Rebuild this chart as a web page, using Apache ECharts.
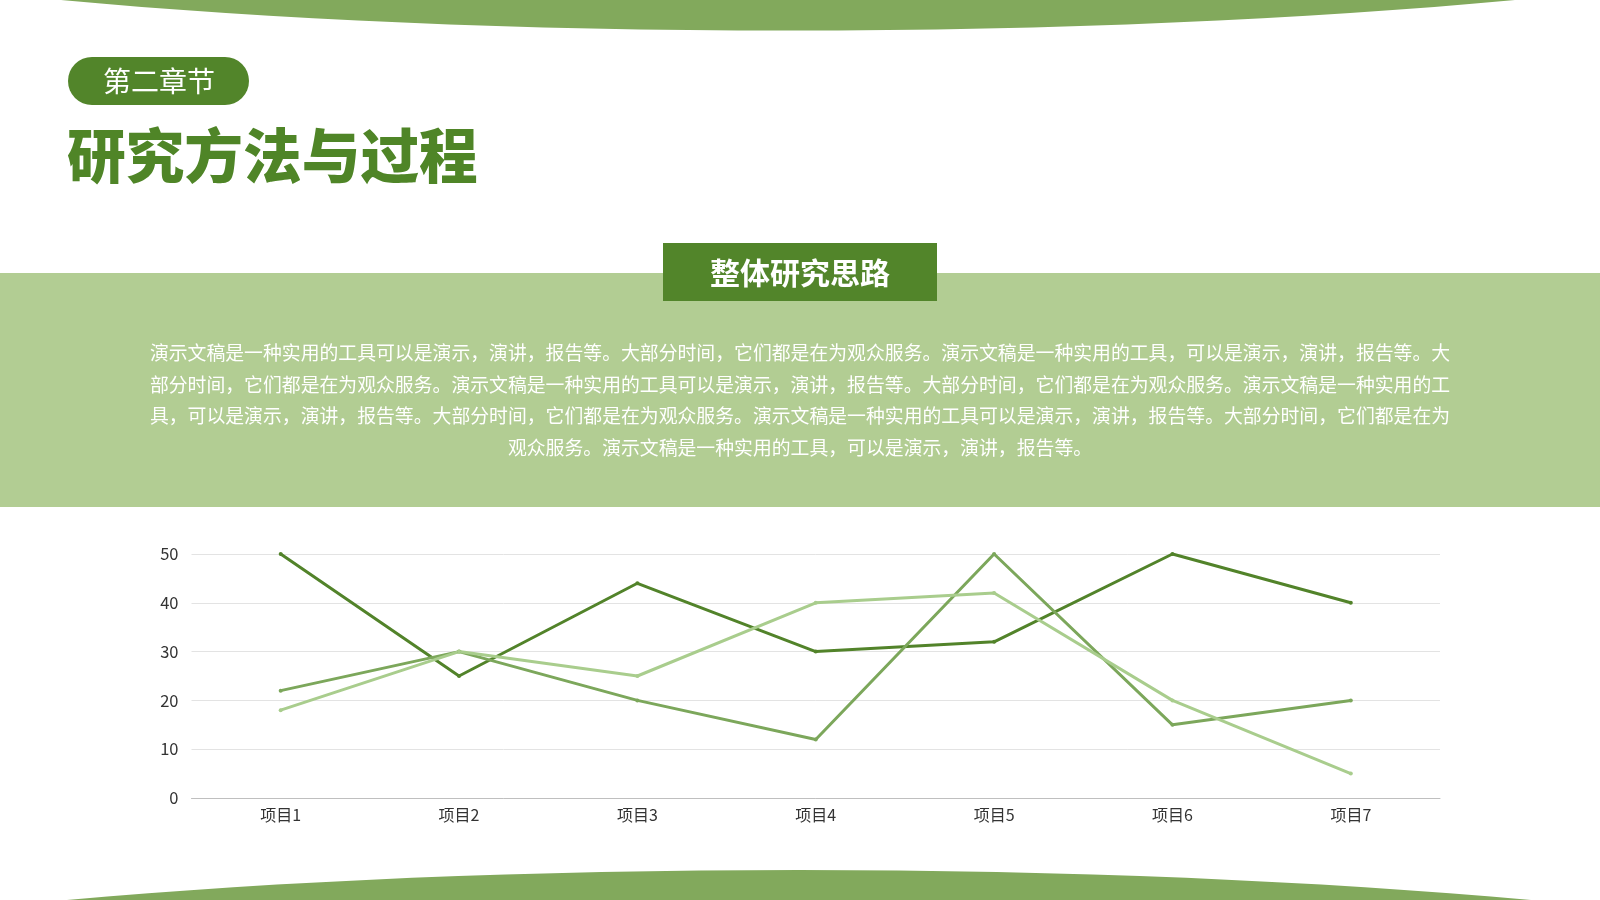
<!DOCTYPE html>
<html>
<head>
<meta charset="utf-8">
<title>研究方法与过程</title>
<script src="https://cdn.jsdelivr.net/npm/echarts@6/dist/echarts.min.js"></script>
<style>
  html, body { margin: 0; padding: 0; background: #fff; }
  #main { width: 1600px; height: 900px; }
</style>
</head>
<body>
<div id="main"></div>
<script>
var categories = ['项目1', '项目2', '项目3', '项目4', '项目5', '项目6', '项目7'];
var series1 = [50, 25, 44, 30, 32, 50, 40];
var series2 = [22, 30, 20, 12, 50, 15, 20];
var series3 = [18, 30, 25, 40, 42, 20, 5];
var seriesNames = ['系列1', '系列2', '系列3'];
var yTicks = [0, 10, 20, 30, 40, 50];

var paraLines = [
    '演示文稿是一种实用的工具可以是演示，演讲，报告等。大部分时间，它们都是在为观众服务。演示文稿是一种实用的工具，可以是演示，演讲，报告等。大',
    '部分时间，它们都是在为观众服务。演示文稿是一种实用的工具可以是演示，演讲，报告等。大部分时间，它们都是在为观众服务。演示文稿是一种实用的工',
    '具，可以是演示，演讲，报告等。大部分时间，它们都是在为观众服务。演示文稿是一种实用的工具可以是演示，演讲，报告等。大部分时间，它们都是在为',
    '观众服务。演示文稿是一种实用的工具，可以是演示，演讲，报告等。'
];

var FONT = '"Noto Sans CJK SC", "Noto Sans", sans-serif';
var deep = '#52852a';
var mid = '#82a95c';
var pale = '#b2cd93';

var myChart = echarts.init(document.getElementById('main'));

var graphics = [
    // top and bottom curved bands
    { type: 'ellipse', z: 0, shape: { cx: 788, cy: -169.4, rx: 1367, ry: 200 }, style: { fill: mid } },
    { type: 'ellipse', z: 0, shape: { cx: 799, cy: 1070, rx: 1389, ry: 200 }, style: { fill: mid } },
    // chapter pill
    { type: 'rect', z: 1, shape: { x: 68, y: 57, width: 181, height: 48, r: 24 }, style: { fill: deep } },
    { type: 'text', z: 2, style: { x: 159, y: 81, text: '第二章节', fill: '#fff', font: '400 28px ' + FONT, textAlign: 'center', textVerticalAlign: 'middle' } },
    // title
    { type: 'text', z: 2, style: { x: 67, y: 156, text: '研究方法与过程', fill: '#4f8527', font: '900 58.7px ' + FONT, textAlign: 'left', textVerticalAlign: 'middle' } },
    // light band
    { type: 'rect', z: 0, shape: { x: 0, y: 273, width: 1600, height: 234 }, style: { fill: pale } },
    // heading box
    { type: 'rect', z: 1, shape: { x: 663, y: 243, width: 274, height: 58 }, style: { fill: deep } },
    { type: 'text', z: 2, style: { x: 800, y: 273, text: '整体研究思路', fill: '#fff', font: '700 30px ' + FONT, textAlign: 'center', textVerticalAlign: 'middle' } }
];

paraLines.forEach(function (line, i) {
    graphics.push({
        type: 'text', z: 2,
        style: {
            x: 800, y: 353 + i * 31.6, text: line, fill: '#fff',
            font: '400 18.85px ' + FONT, textAlign: 'center', textVerticalAlign: 'middle'
        }
    });
});

function lineSeries(name, data, color) {
    return {
        name: name,
        type: 'line',
        data: data,
        symbol: 'circle',
        symbolSize: 4,
        lineStyle: { width: 3, color: color },
        itemStyle: { color: color },
        z: 3
    };
}

var option = {
    backgroundColor: '#fff',
    animation: false,
    textStyle: { fontFamily: FONT },
    graphic: { elements: graphics },
    grid: { left: 191.5, right: 160, top: 554, bottom: 102 },
    xAxis: {
        type: 'category',
        data: categories,
        boundaryGap: true,
        axisLine: { lineStyle: { color: '#bfbfbf', width: 1 } },
        axisTick: { show: false },
        axisLabel: { color: '#333', fontSize: 16, margin: 9, fontFamily: FONT }
    },
    yAxis: {
        type: 'value',
        min: yTicks[0],
        max: yTicks[yTicks.length - 1],
        interval: 10,
        axisLine: { show: false },
        axisTick: { show: false },
        axisLabel: { color: '#333', fontSize: 16.5, margin: 13, fontFamily: FONT },
        splitLine: { lineStyle: { color: '#e3e3e3', width: 1 } }
    },
    series: [
        lineSeries(seriesNames[0], series1, '#52832a'),
        lineSeries(seriesNames[1], series2, '#7ca75b'),
        lineSeries(seriesNames[2], series3, '#a9cd8d')
    ]
};

myChart.setOption(option);

window.onresize = function () {
    myChart.resize();
};
</script>
</body>
</html>
